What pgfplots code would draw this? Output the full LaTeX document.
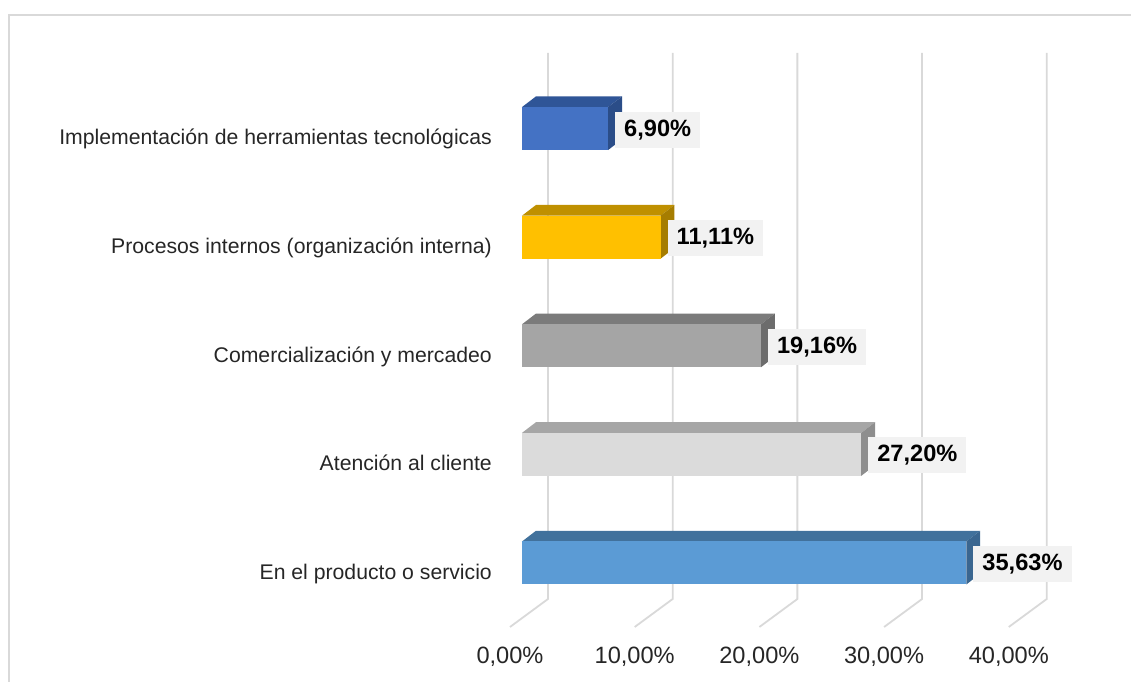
\documentclass[border=0pt]{standalone}
\usepackage{fontspec}
\setmainfont{Liberation Sans}
\usepackage{pgfplots}
\pgfplotsset{compat=1.18}
\definecolor{gridc}{HTML}{D9D9D9}
\definecolor{frontA}{HTML}{4472C4}\definecolor{topA}{HTML}{2F5597}\definecolor{sideA}{HTML}{2B4D88}
\definecolor{frontB}{HTML}{FFC000}\definecolor{topB}{HTML}{BF9000}\definecolor{sideB}{HTML}{A67D00}
\definecolor{frontC}{HTML}{A5A5A5}\definecolor{topC}{HTML}{7B7B7B}\definecolor{sideC}{HTML}{6C6C6C}
\definecolor{frontD}{HTML}{DBDBDB}\definecolor{topD}{HTML}{A6A6A6}\definecolor{sideD}{HTML}{8E8E8E}
\definecolor{frontE}{HTML}{5B9BD5}\definecolor{topE}{HTML}{41719C}\definecolor{sideE}{HTML}{3A6690}
\definecolor{lblbox}{HTML}{F2F2F2}
\definecolor{txt}{HTML}{262626}
\newcommand{\ticksize}{\fontsize{23.6bp}{28bp}\selectfont}
\newcommand{\catsize}{\fontsize{21.2bp}{25bp}\selectfont}
\begin{document}
\begin{tikzpicture}
\begin{axis}[
  scale only axis, width=621bp, height=612bp,
  xmin=-0.962, xmax=48.84, ymin=55, ymax=667,
  clip=false,
  axis line style={draw=none}, tick style={draw=none}, major tick length=0pt,
  xtick={-0.962,9.038,19.038,29.038,39.038},
  xticklabels={{0,00\%},{10,00\%},{20,00\%},{30,00\%},{40,00\%}},
  xticklabel style={anchor=base, inner sep=0pt, yshift=-37bp, font=\ticksize, text=txt},
  ytick={119.0,227.6,336.2,444.8,553.4},
  yticklabels={En el producto o servicio, Atención al cliente, Comercialización y mercadeo, Procesos internos (organización interna), Implementación de herramientas tecnológicas},
  yticklabel style={anchor=base east, inner sep=0pt, xshift=-18bp, yshift=-16.4bp, font=\catsize, text=txt},
  /pgf/number format/assume math mode=true,
  every axis plot/.append style={mark=none},
]
% frame
\draw[gridc, line width=1.7bp] (axis cs:-41.14,-5) -- (axis cs:-41.14,667) -- (axis cs:49.6,667);
% gridlines (back wall + floor)
\addplot[gridc, line width=1.8bp] coordinates {(2.085,629) (2.085,83) (-0.962,55)};
\addplot[gridc, line width=1.8bp] coordinates {(12.085,629) (12.085,83) (9.038,55)};
\addplot[gridc, line width=1.8bp] coordinates {(22.085,629) (22.085,83) (19.038,55)};
\addplot[gridc, line width=1.8bp] coordinates {(32.085,629) (32.085,83) (29.038,55)};
\addplot[gridc, line width=1.8bp] coordinates {(42.085,629) (42.085,83) (39.038,55)};
% top and side faces
\addplot[fill=topA, draw=none] coordinates {(0,574.9) (1.12,585.6) (8.02,585.6) (6.90,574.9)} -- cycle;
\addplot[fill=sideA, draw=none] coordinates {(6.90,574.9) (8.02,585.6) (8.02,542.6) (6.90,531.9)} -- cycle;
\addplot[fill=topB, draw=none] coordinates {(0,466.3) (1.12,477.0) (12.23,477.0) (11.11,466.3)} -- cycle;
\addplot[fill=sideB, draw=none] coordinates {(11.11,466.3) (12.23,477.0) (12.23,434.0) (11.11,423.3)} -- cycle;
\addplot[fill=topC, draw=none] coordinates {(0,357.7) (1.12,368.4) (20.28,368.4) (19.16,357.7)} -- cycle;
\addplot[fill=sideC, draw=none] coordinates {(19.16,357.7) (20.28,368.4) (20.28,325.4) (19.16,314.7)} -- cycle;
\addplot[fill=topD, draw=none] coordinates {(0,249.1) (1.12,259.8) (28.32,259.8) (27.20,249.1)} -- cycle;
\addplot[fill=sideD, draw=none] coordinates {(27.20,249.1) (28.32,259.8) (28.32,216.8) (27.20,206.1)} -- cycle;
\addplot[fill=topE, draw=none] coordinates {(0,140.5) (1.12,151.2) (36.75,151.2) (35.63,140.5)} -- cycle;
\addplot[fill=sideE, draw=none] coordinates {(35.63,140.5) (36.75,151.2) (36.75,108.2) (35.63,97.5)} -- cycle;
% front faces with labels
\pgfplotsset{frontbar/.style={xbar, bar width=43bp, bar shift=0pt, draw=none, point meta=x,
  nodes near coords={\pgfmathprintnumber[fixed,fixed zerofill,precision=2,use comma,assume math mode=true]{\pgfplotspointmeta}\%},
  nodes near coords style={anchor=west, xshift=7bp, yshift=-1bp, fill=lblbox, inner xsep=9bp, inner ysep=0pt, minimum height=36bp, text=black, font=\ticksize\bfseries}}}
\addplot[frontbar, fill=frontA] coordinates {(6.90,553.4)};
\addplot[frontbar, fill=frontB] coordinates {(11.11,444.8)};
\addplot[frontbar, fill=frontC] coordinates {(19.16,336.2)};
\addplot[frontbar, fill=frontD] coordinates {(27.20,227.6)};
\addplot[frontbar, fill=frontE] coordinates {(35.63,119.0)};
\coordinate (BL) at (axis cs:-41.863,0);
\coordinate (TR) at (axis cs:48.84,682);
\end{axis}
\pgfresetboundingbox
\path[use as bounding box] (BL) rectangle (TR);
\end{tikzpicture}
\end{document}
